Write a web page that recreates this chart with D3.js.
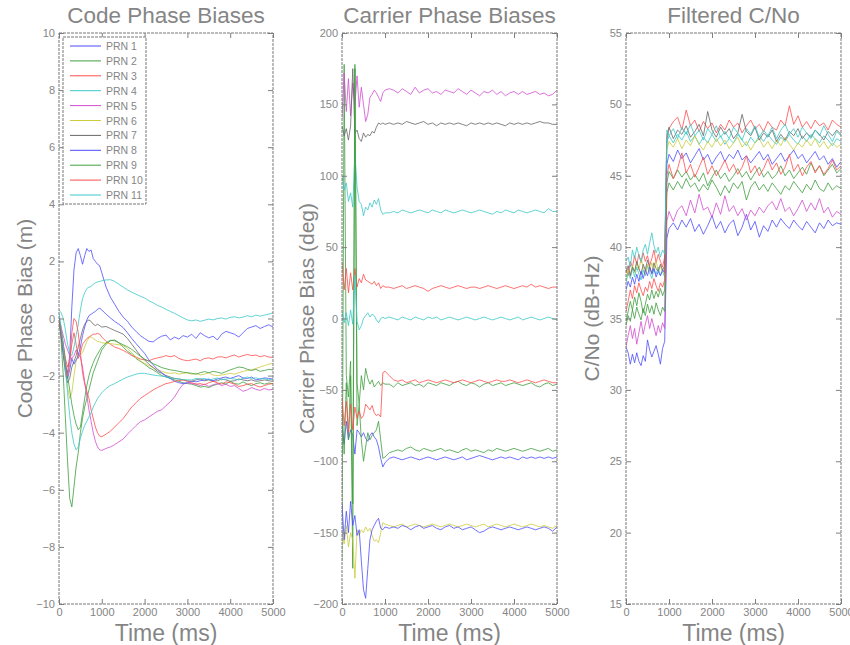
<!DOCTYPE html>
<html>
<head>
<meta charset="utf-8">
<script src="https://cdn.jsdelivr.net/npm/d3@7"></script>
<style>
  body { margin: 0; background: #fff; }
  svg text { font-family: "Liberation Sans", Arial, sans-serif; fill: #858585; }
</style>
</head>
<body>
<div id="chart"></div>
<script>
// time axis shared by every panel (ms)
const timeMs = [0, 50, 100, 150, 200, 250, 300, 350, 400, 450, 500, 550, 600, 650, 700, 750, 800, 850, 900, 950, 1000,
  1100, 1200, 1300, 1400, 1500, 1600, 1700, 1800, 1900, 2000, 2100, 2200, 2300, 2400, 2500, 2600, 2700, 2800, 2900, 3000,
  3100, 3200, 3300, 3400, 3500, 3600, 3700, 3800, 3900, 4000, 4100, 4200, 4300, 4400, 4500, 4600, 4700, 4800, 4900, 5000];

const prnNames = ["PRN 1", "PRN 2", "PRN 3", "PRN 4", "PRN 5", "PRN 6", "PRN 7", "PRN 8", "PRN 9", "PRN 10", "PRN 11"];

// code phase bias (m)
const codePrn1 = [0.0, -0.6, -1.2, -1.7, -1.9, -1.3, 0.4, 1.7, 2.3, 2.45, 2.2, 1.9, 2.2, 2.45, 2.35, 2.4, 2.1, 2.0, 1.9, 1.85, 1.6,
  1.1, 0.75, 0.5, 0.25, 0.05, -0.1, -0.3, -0.45, -0.6, -0.7, -0.8, -0.82, -0.7, -0.62, -0.58, -0.75, -0.65, -0.72, -0.6, -0.65,
  -0.55, -0.7, -0.5, -0.6, -0.68, -0.62, -0.75, -0.55, -0.45, -0.5, -0.55, -0.65, -0.5, -0.35, -0.3, -0.25, -0.35, -0.28, -0.22, -0.3];
const codePrn2 = [0.0, -0.8, -2.0, -3.5, -5.0, -6.3, -6.6, -5.9, -5.2, -4.7, -4.0, -3.5, -3.1, -2.8, -2.5, -2.2, -1.9, -1.7, -1.5, -1.3, -1.1,
  -0.9, -0.78, -0.75, -0.85, -1.0, -1.15, -1.25, -1.4, -1.5, -1.6, -1.72, -1.8, -1.9, -2.0, -2.05, -2.1, -2.15, -2.2, -2.25, -2.28,
  -2.3, -2.35, -2.4, -2.38, -2.42, -2.35, -2.3, -2.25, -2.3, -2.2, -2.28, -2.3, -2.22, -2.3, -2.35, -2.28, -2.25, -2.3, -2.26, -2.28];
const codePrn3 = [0.0, -0.4, -0.9, -1.4, -1.7, -1.5, -0.9, -0.5, -0.9, -1.4, -1.2, -0.9, -0.8, -0.7, -0.65, -0.6, -0.55, -0.55, -0.52, -0.55, -0.65,
  -0.8, -0.9, -1.0, -1.05, -1.12, -1.2, -1.3, -1.35, -1.42, -1.45, -1.48, -1.42, -1.38, -1.35, -1.3, -1.34, -1.3, -1.4, -1.45, -1.48,
  -1.45, -1.42, -1.48, -1.4, -1.38, -1.42, -1.35, -1.34, -1.38, -1.32, -1.28, -1.35, -1.3, -1.26, -1.3, -1.28, -1.34, -1.3, -1.35, -1.36];
const codePrn4 = [0.3, 0.2, 0.0, -0.4, -0.9, -1.2, -1.3, -1.0, -0.6, -0.2, 0.3, 0.7, 0.9, 1.05, 1.1, 1.12, 1.2, 1.25, 1.28, 1.3, 1.32,
  1.35, 1.36, 1.3, 1.2, 1.1, 1.0, 0.92, 0.85, 0.78, 0.72, 0.62, 0.55, 0.46, 0.4, 0.32, 0.25, 0.18, 0.1, 0.02, -0.05,
  -0.08, -0.05, -0.1, -0.06, -0.02, -0.05, 0.0, 0.02, -0.02, 0.04, 0.06, 0.02, 0.05, 0.1, 0.06, 0.12, 0.08, 0.12, 0.15, 0.2];
const codePrn5 = [0.0, -0.3, -0.6, -0.9, -1.1, -1.3, -1.4, -1.3, -1.1, -1.2, -1.35, -1.7, -2.2, -2.7, -3.2, -3.6, -4.0, -4.3, -4.5, -4.6, -4.62,
  -4.55, -4.5, -4.42, -4.32, -4.22, -4.05, -3.9, -3.75, -3.62, -3.55, -3.45, -3.35, -3.25, -3.2, -3.05, -2.92, -2.75, -2.5, -2.3, -2.25,
  -2.28, -2.3, -2.35, -2.3, -2.38, -2.32, -2.28, -2.35, -2.3, -2.38, -2.35, -2.45, -2.55, -2.5, -2.42, -2.48, -2.52, -2.45, -2.5, -2.48];
const codePrn6 = [0.0, -0.5, -1.1, -1.8, -2.4, -2.8, -2.6, -2.0, -1.5, -1.3, -1.25, -1.2, -1.0, -0.8, -0.68, -0.64, -0.7, -0.75, -0.8, -0.82, -0.85,
  -0.87, -0.88, -0.9, -0.92, -0.95, -1.05, -1.2, -1.35, -1.48, -1.57, -1.65, -1.72, -1.8, -1.85, -1.9, -1.92, -1.9, -1.95, -1.92, -1.9,
  -1.95, -1.92, -1.98, -1.95, -1.9, -1.98, -2.0, -1.98, -1.95, -1.92, -1.95, -1.9, -1.85, -1.82, -1.8, -1.75, -1.7, -1.65, -1.6, -1.57];
const codePrn7 = [0.0, -0.6, -1.3, -1.9, -2.25, -2.1, -1.7, -1.5, -1.3, -1.0, -0.7, -0.4, -0.2, -0.1, -0.05, -0.1, -0.2, -0.25, -0.2, -0.25, -0.3,
  -0.28, -0.35, -0.42, -0.48, -0.55, -0.7, -0.9, -1.1, -1.3, -1.45, -1.6, -1.72, -1.85, -1.92, -2.0, -2.05, -2.1, -2.12, -2.15, -2.18,
  -2.2, -2.15, -2.12, -2.18, -2.15, -2.2, -2.18, -2.12, -2.15, -2.2, -2.18, -2.12, -2.15, -2.18, -2.15, -2.2, -2.18, -2.15, -2.18, -2.2];
const codePrn8 = [0.0, -0.5, -1.1, -1.7, -2.1, -1.8, -1.4, -1.6, -1.45, -1.3, -1.0, -0.6, -0.3, -0.05, 0.1, 0.15, 0.2, 0.25, 0.32, 0.36, 0.3,
  0.15, 0.02, -0.1, -0.2, -0.32, -0.5, -0.7, -0.88, -1.05, -1.22, -1.45, -1.62, -1.78, -1.9, -2.02, -2.1, -2.2, -2.25, -2.28, -2.25,
  -2.2, -2.22, -2.18, -2.15, -2.12, -2.18, -2.12, -2.08, -2.05, -2.1, -2.05, -2.0, -2.08, -2.1, -2.05, -2.15, -2.12, -2.08, -2.1, -2.12];
const codePrn9 = [0.0, -0.4, -0.9, -1.5, -2.0, -2.5, -3.0, -3.4, -3.7, -3.9, -3.8, -3.3, -2.8, -2.35, -2.0, -1.75, -1.55, -1.38, -1.25, -1.12, -1.0,
  -0.85, -0.76, -0.78, -0.85, -0.92, -0.99, -1.08, -1.2, -1.32, -1.42, -1.5, -1.58, -1.65, -1.72, -1.76, -1.8, -1.82, -1.85, -1.88, -1.9,
  -1.92, -1.95, -1.9, -1.86, -1.9, -1.85, -1.88, -1.92, -1.86, -1.8, -1.75, -1.7, -1.72, -1.78, -1.82, -1.78, -1.85, -1.82, -1.78, -1.8];
const codePrn10 = [0.0, -0.5, -1.0, -1.6, -2.0, -1.6, -0.5, 0.0, -0.1, -0.5, -1.2, -1.9, -2.3, -2.55, -2.8, -3.2, -3.5, -3.8, -4.0, -4.12, -4.14,
  -4.05, -3.95, -3.8, -3.65, -3.5, -3.3, -3.1, -2.95, -2.8, -2.7, -2.6, -2.5, -2.42, -2.35, -2.28, -2.25, -2.2, -2.18, -2.15, -2.2,
  -2.25, -2.3, -2.28, -2.32, -2.25, -2.2, -2.25, -2.3, -2.22, -2.25, -2.3, -2.38, -2.35, -2.3, -2.28, -2.35, -2.4, -2.35, -2.3, -2.28];
const codePrn11 = [0.2, -0.3, -1.0, -1.8, -2.6, -3.4, -4.0, -4.4, -4.6, -4.5, -4.2, -3.95, -3.75, -3.6, -3.45, -3.3, -3.1, -2.95, -2.8, -2.7, -2.6,
  -2.45, -2.35, -2.28, -2.2, -2.12, -2.05, -2.0, -1.95, -1.92, -1.92, -1.95, -1.98, -2.0, -2.02, -2.04, -2.08, -2.1, -2.12, -2.14, -2.15,
  -2.15, -2.1, -2.12, -2.1, -2.15, -2.12, -2.08, -2.15, -2.12, -2.1, -2.12, -2.15, -2.1, -2.05, -2.1, -2.08, -2.12, -2.1, -2.15, -2.12];

// carrier phase bias (deg)
const carrPrn1 = [-75, -88, -72, -85, -78, -82, -95, -78, -80, -83, -80, -84, -86, -82, -80, -83, -85, -90, -98, -104, -101,
  -98, -97, -98, -99, -98, -97, -98, -99, -98, -97, -98, -99, -98, -97, -98, -99, -98, -97, -99, -98,
  -97, -96, -97, -98, -99, -98, -97, -98, -97, -98, -99, -97, -98, -97, -98, -97, -98, -97, -98, -97];
const carrPrn2 = [-170, 178, -40, -55, -30, -175, 178, -45, -60, -40, -50, -35, -42, -46, -43, -48, -46, -44, -47, -45, -46,
  -46, -48, -45, -47, -46, -45, -47, -46, -48, -45, -46, -47, -45, -46, -47, -45, -44, -46, -47, -45,
  -46, -48, -46, -45, -47, -46, -45, -47, -46, -45, -46, -47, -46, -45, -47, -48, -46, -45, -47, -46];
const carrPrn3 = [40, 20, 35, 18, 32, 20, 35, 22, 28, 25, 31, 27, 26, 25, 24, 26, 23, 25, 21, 23, 22,
  22, 21, 22, 23, 21, 22, 23, 22, 21, 19, 21, 22, 23, 22, 21, 22, 23, 22, 21, 22,
  22, 21, 22, 23, 22, 21, 22, 23, 22, 21, 22, 23, 22, 24, 22, 23, 22, 21, 22, 22];
const carrPrn4 = [100, 90, 95, 82, 88, 78, 115, 92, 82, 80, 72, 78, 76, 81, 78, 83, 80, 84, 76, 73, 74,
  74, 75, 74, 76, 75, 74, 75, 76, 75, 74, 76, 75, 74, 76, 75, 74, 75, 76, 75, 74,
  75, 76, 75, 74, 73, 75, 74, 76, 75, 74, 76, 75, 74, 75, 76, 75, 74, 77, 75, 75];
const carrPrn5 = [140, 172, 145, 168, 142, 165, 150, 170, 148, 162, 150, 138, 143, 155, 157, 160, 158, 155, 152, 158, 160,
  161, 160, 158, 161, 159, 157, 162, 158, 160, 161, 158, 159, 157, 160, 159, 158, 161, 159, 157, 160,
  158, 156, 159, 158, 160, 157, 159, 156, 158, 159, 157, 159, 157, 158, 159, 157, 158, 156, 157, 160];
const carrPrn6 = [-150, -158, -145, -160, -150, -155, -182, -148, -152, -148, -150, -146, -149, -147, -152, -156, -155, -157, -150, -143, -144,
  -145, -146, -145, -144, -146, -145, -144, -145, -146, -145, -144, -145, -146, -145, -144, -145, -146, -145, -144, -145,
  -146, -145, -144, -146, -145, -144, -145, -146, -145, -144, -145, -146, -145, -144, -145, -146, -145, -146, -147, -145];
const carrPrn7 = [135, 128, 133, 125, 135, 175, 130, 132, 126, 124, 130, 127, 129, 128, 131, 130, 134, 137, 136, 137, 136,
  137, 136, 137, 136, 138, 137, 136, 137, 138, 136, 137, 135, 137, 136, 137, 136, 137, 136, 135, 137,
  136, 137, 136, 137, 136, 137, 136, 135, 137, 136, 137, 136, 137, 136, 137, 138, 137, 137, 136, 136];
const carrPrn8 = [-130, -155, -135, -150, -128, -145, -138, -152, -148, -170, -190, -196, -175, -155, -148, -145, -142, -140, -147, -148, -146,
  -147, -146, -147, -145, -146, -148, -146, -145, -147, -146, -145, -147, -148, -146, -145, -147, -146, -148, -147, -146,
  -148, -150, -149, -147, -146, -147, -148, -147, -146, -147, -148, -147, -146, -147, -148, -147, -146, -147, -149, -146];
const carrPrn9 = [-60, -95, -45, -85, -40, -130, 175, -75, -60, -85, -100, -90, -80, -85, -82, -80, -78, -72, -85, -98, -97,
  -94, -93, -92, -93, -91, -90, -92, -93, -91, -92, -93, -92, -91, -93, -92, -93, -94, -92, -91, -93,
  -92, -93, -94, -92, -93, -91, -92, -93, -92, -91, -92, -93, -92, -91, -92, -93, -92, -91, -93, -92];
const carrPrn10 = [-55, -75, -58, -80, -60, -78, -62, -70, -65, -70, -68, -60, -62, -64, -61, -66, -68, -67, -69, -38, -37,
  -40, -43, -44, -43, -45, -44, -43, -45, -44, -43, -44, -45, -44, -43, -44, -45, -44, -43, -44, -45,
  -44, -43, -44, -45, -44, -43, -44, -44, -43, -44, -45, -44, -43, -44, -45, -44, -43, -44, -45, -45];
const carrPrn11 = [5, -3, 4, -5, 6, -4, 30, -2, -8, -5, 0, 2, 4, 1, 3, 2, -1, -3, 0, 1, 0,
  1, 0, -1, 1, 0, -1, 1, 0, -1, 1, 0, 1, -1, 0, 1, 0, -1, 0, 1, 0,
  -1, 0, 1, 0, -1, 0, 1, 0, -1, 0, 1, -1, 0, 1, 0, -1, 0, 1, 0, -1];

// filtered C/No (dB-Hz)
const cnoPrn1 = [33.0, 32.6, 31.8, 32.5, 31.9, 32.6, 32.0, 31.7, 32.4, 32.0, 33.5, 32.8, 32.3, 32.7, 33.1, 32.5, 31.8, 32.9, 33.4, 40.6, 41.3,
  41.7, 41.2, 41.9, 41.4, 42.0, 41.1, 41.6, 40.9, 41.5, 42.2, 41.3, 41.8, 41.0, 41.6, 41.9, 40.8, 41.4, 42.3, 41.2, 41.8,
  40.7, 41.5, 41.1, 41.9, 41.4, 42.0, 41.6, 41.3, 41.9, 41.5, 41.2, 41.8, 41.4, 41.0, 41.7, 41.3, 41.9, 41.5, 41.7, 41.6];
const cnoPrn2 = [34.8, 35.5, 36.2, 35.6, 36.5, 35.9, 36.8, 36.2, 35.4, 36.0, 36.7, 36.3, 37.0, 36.4, 36.9, 36.5, 37.1, 36.6, 37.0, 44.5, 45.3,
  44.8, 45.4, 44.9, 45.3, 44.7, 45.1, 44.6, 45.2, 44.3, 44.9, 45.4, 44.8, 45.2, 44.6, 45.0, 45.5, 44.9, 45.3, 44.7, 45.2,
  45.6, 44.9, 45.3, 44.8, 45.1, 45.7, 45.0, 45.4, 44.8, 45.2, 45.6, 45.1, 45.9, 45.3, 45.7, 45.0, 45.4, 45.8, 45.2, 45.5];
const cnoPrn3 = [38.5, 38.0, 39.0, 38.6, 39.4, 38.8, 39.5, 38.9, 39.6, 39.0, 39.4, 38.7, 39.2, 39.8, 38.9, 39.5, 39.0, 38.6, 39.3, 47.5, 48.3,
  48.8, 49.1, 48.2, 49.6, 48.5, 48.9, 48.1, 48.8, 48.3, 48.7, 48.0, 48.6, 48.2, 48.9, 48.4, 48.7, 48.0, 48.5, 48.9, 48.3,
  48.6, 48.1, 48.8, 48.4, 48.2, 48.9, 48.5, 49.9, 48.6, 49.2, 48.4, 48.8, 48.3, 48.9, 48.5, 48.7, 48.2, 48.9, 48.6, 48.4];
const cnoPrn4 = [37.5, 38.2, 37.8, 38.5, 37.9, 38.6, 38.1, 37.7, 38.4, 38.0, 38.7, 38.2, 37.8, 38.5, 38.1, 38.6, 38.0, 38.3, 37.9, 47.3, 47.8,
  47.3, 47.9, 47.5, 48.1, 47.4, 47.8, 47.2, 47.7, 47.3, 47.9, 47.4, 47.8, 47.2, 47.6, 47.3, 47.9, 47.5, 47.1, 47.7, 47.3,
  47.8, 47.4, 47.9, 47.5, 47.2, 47.7, 47.4, 47.9, 47.5, 47.2, 47.8, 47.4, 47.9, 47.6, 47.3, 47.8, 47.5, 47.1, 47.6, 47.4];
const cnoPrn5 = [33.0, 33.8, 34.5, 33.6, 34.3, 33.2, 34.0, 34.8, 33.9, 34.6, 35.2, 34.3, 35.0, 34.4, 33.8, 34.5, 34.0, 34.7, 34.3, 41.8, 42.5,
  41.8, 42.6, 42.9, 42.2, 43.3, 42.4, 43.7, 42.6, 42.8, 42.1, 43.1, 42.3, 43.6, 42.5, 42.9, 42.2, 42.7, 41.9, 42.6, 42.2,
  42.8, 42.4, 42.9, 43.2, 42.6, 43.4, 42.5, 42.8, 42.2, 42.7, 43.3, 42.5, 43.1, 42.6, 43.4, 42.4, 42.8, 42.1, 42.5, 42.3];
const cnoPrn6 = [37.8, 38.5, 38.0, 38.7, 38.2, 38.9, 38.4, 39.2, 38.6, 38.1, 38.8, 38.3, 38.9, 38.5, 39.0, 38.4, 38.7, 38.2, 38.6, 46.8, 47.4,
  47.0, 47.6, 46.9, 47.5, 47.1, 47.8, 47.2, 46.8, 47.4, 47.0, 47.6, 47.1, 47.5, 46.9, 47.3, 47.7, 47.0, 47.4, 46.8, 47.3,
  47.6, 47.0, 47.4, 46.9, 47.5, 47.1, 47.7, 47.2, 46.8, 47.3, 47.0, 47.5, 47.1, 47.6, 47.0, 47.4, 46.9, 47.3, 47.0, 47.2];
const cnoPrn7 = [38.2, 38.7, 38.0, 38.6, 38.3, 39.0, 38.5, 38.1, 38.8, 38.4, 39.1, 38.6, 38.2, 38.9, 38.5, 38.3, 38.8, 38.4, 38.7, 47.8, 48.4,
  47.6, 48.2, 47.9, 48.5, 47.7, 48.1, 48.6, 47.8, 49.5, 48.2, 47.7, 48.4, 47.9, 48.3, 47.6, 48.0, 49.3, 48.1, 47.8, 48.4,
  47.5, 48.0, 47.7, 48.2, 47.4, 47.9, 47.5, 48.1, 47.8, 48.3, 47.6, 48.0, 47.7, 48.2, 47.9, 47.5, 48.1, 47.8, 48.2, 47.9];
const cnoPrn8 = [37.0, 37.6, 37.2, 37.9, 37.4, 38.1, 37.6, 38.3, 37.8, 38.4, 38.0, 38.6, 38.1, 38.5, 37.9, 38.3, 38.0, 38.4, 38.2, 45.8, 46.5,
  46.0, 46.8, 46.2, 46.6, 45.9, 46.4, 46.9, 46.1, 46.5, 45.8, 46.3, 46.7, 46.0, 46.5, 46.2, 46.8, 46.1, 46.4, 45.9, 46.3,
  46.7, 46.1, 46.5, 45.8, 46.2, 46.6, 46.0, 46.4, 46.8, 46.2, 46.5, 45.9, 46.3, 46.7, 46.1, 46.4, 45.8, 46.2, 45.6, 46.0];
const cnoPrn9 = [34.5, 35.2, 34.8, 35.6, 35.0, 35.8, 35.3, 34.9, 35.7, 35.2, 36.0, 35.4, 35.9, 35.3, 36.1, 35.6, 35.2, 35.8, 35.5, 43.8, 44.5,
  44.0, 44.6, 44.1, 44.8, 44.2, 44.5, 43.9, 44.4, 44.0, 44.7, 44.2, 43.6, 44.3, 43.8, 44.5, 44.1, 44.6, 43.3, 44.2, 44.6,
  44.0, 44.4, 43.9, 44.5, 44.1, 43.7, 44.3, 44.0, 44.6, 44.2, 43.8, 44.4, 44.0, 44.7, 44.1, 43.9, 44.5, 44.0, 44.3, 44.1];
const cnoPrn10 = [35.5, 36.2, 37.0, 36.4, 37.3, 36.8, 37.5, 37.0, 36.6, 37.2, 36.9, 37.6, 37.1, 37.8, 37.3, 36.9, 37.5, 37.2, 37.7, 45.0, 45.8,
  44.8, 45.5, 46.6, 45.2, 45.8, 44.9, 45.6, 46.3, 45.1, 45.7, 45.0, 45.5, 46.1, 45.3, 45.8, 45.1, 45.6, 46.4, 45.2, 45.7,
  45.0, 45.5, 46.2, 45.4, 45.9, 45.1, 45.6, 46.5, 45.3, 45.8, 45.0, 45.6, 46.0, 45.2, 45.7, 45.1, 45.5, 46.1, 45.4, 45.7];
const cnoPrn11 = [39.0, 39.3, 38.6, 39.8, 39.2, 40.0, 39.4, 39.0, 39.8, 40.2, 39.5, 40.3, 41.0, 40.1, 39.6, 40.0, 39.3, 39.8, 39.5, 48.2, 47.8,
  48.3, 47.6, 48.4, 47.9, 48.6, 47.8, 48.2, 47.5, 48.3, 47.9, 48.5, 47.7, 48.1, 47.6, 48.4, 48.0, 47.5, 48.3, 47.9, 48.5,
  47.7, 48.2, 47.8, 48.4, 47.6, 48.2, 48.6, 47.9, 48.3, 47.7, 48.4, 48.0, 47.6, 48.2, 47.8, 48.5, 47.9, 47.4, 48.1, 47.8];

const codeSeries = [codePrn1, codePrn2, codePrn3, codePrn4, codePrn5, codePrn6, codePrn7, codePrn8, codePrn9, codePrn10, codePrn11];
const carrSeries = [carrPrn1, carrPrn2, carrPrn3, carrPrn4, carrPrn5, carrPrn6, carrPrn7, carrPrn8, carrPrn9, carrPrn10, carrPrn11];
const cnoSeries = [cnoPrn1, cnoPrn2, cnoPrn3, cnoPrn4, cnoPrn5, cnoPrn6, cnoPrn7, cnoPrn8, cnoPrn9, cnoPrn10, cnoPrn11];

const xTicks = [0, 1000, 2000, 3000, 4000, 5000];

// matlab style colour cycle b g r c m y k
const lineColors = ["#4d4dff", "#3f9f3f", "#ff4d4d", "#3cc8c8", "#d24dd2", "#cccc3c", "#666666",
  "#4d4dff", "#3f9f3f", "#ff4d4d", "#3cc8c8"];

const width = 850, height = 645;
const svg = d3.select("#chart").append("svg")
  .attr("width", width)
  .attr("height", height);

const plotTop = 33, plotBottom = 604;

const panels = [
  { left: 59, right: 273, title: "Code Phase Biases", ylabel: "Code Phase Bias (m)", ylabelX: 32,
    domain: [-10, 10], ticks: d3.range(-10, 11, 2), series: codeSeries },
  { left: 342, right: 557, title: "Carrier Phase Biases", ylabel: "Carrier Phase Bias (deg)", ylabelX: 314,
    domain: [-200, 200], ticks: d3.range(-200, 201, 50), series: carrSeries },
  { left: 626, right: 841, title: "Filtered C/No", ylabel: "C/No (dB-Hz)", ylabelX: 599,
    domain: [15, 55], ticks: d3.range(15, 56, 5), series: cnoSeries }
];

panels.forEach((p, pi) => {
  let x = d3.scaleLinear().domain([0, 5000]).range([p.left, p.right]);
  let y = d3.scaleLinear().domain(p.domain).range([plotBottom, plotTop]);
  let g = svg.append("g");

  // clip lines to the plot box
  g.append("clipPath").attr("id", "clip" + pi)
    .append("rect")
    .attr("x", p.left).attr("y", plotTop)
    .attr("width", p.right - p.left).attr("height", plotBottom - plotTop);

  let line = d3.line()
    .x((d, i) => x(timeMs[i]))
    .y(d => y(d));

  g.append("g").attr("clip-path", `url(#clip${pi})`)
    .selectAll("path")
    .data(p.series)
    .join("path")
    .attr("d", d => line(d))
    .attr("fill", "none")
    .attr("stroke", (d, i) => lineColors[i])
    .attr("stroke-width", 1)
    .attr("stroke-opacity", 0.8);

  // axes with inward ticks on all four sides
  let axes = [
    { axis: d3.axisLeft(y).tickValues(p.ticks), tr: `translate(${p.left},0)` },
    { axis: d3.axisRight(y).tickValues(p.ticks).tickFormat(""), tr: `translate(${p.right},0)` },
    { axis: d3.axisBottom(x).tickValues(xTicks).tickFormat(d3.format("d")), tr: `translate(0,${plotBottom})` },
    { axis: d3.axisTop(x).tickValues(xTicks).tickFormat(""), tr: `translate(0,${plotTop})` }
  ];
  axes.forEach(a => {
    let ag = g.append("g").attr("transform", a.tr)
      .call(a.axis.tickSize(-5).tickPadding(4));
    ag.select(".domain").remove();
    ag.selectAll("line").attr("stroke", "#808080");
    ag.selectAll("text").attr("font-size", 11).attr("fill", "#8a8a8a");
  });

  g.append("rect")
    .attr("x", p.left).attr("y", plotTop)
    .attr("width", p.right - p.left).attr("height", plotBottom - plotTop)
    .attr("fill", "none")
    .attr("stroke", "#777")
    .attr("stroke-dasharray", "3,1");

  g.append("text")
    .attr("x", (p.left + p.right) / 2).attr("y", 23)
    .attr("text-anchor", "middle")
    .attr("font-size", 22.5)
    .text(p.title);

  g.append("text")
    .attr("x", (p.left + p.right) / 2).attr("y", 641)
    .attr("text-anchor", "middle")
    .attr("font-size", 23)
    .text("Time (ms)");

  g.append("text")
    .attr("transform", `translate(${p.ylabelX},${(plotTop + plotBottom) / 2}) rotate(-90)`)
    .attr("text-anchor", "middle")
    .attr("font-size", 21)
    .text(p.ylabel);
});

// legend on the code phase panel
const legend = svg.append("g");
legend.append("rect")
  .attr("x", 63).attr("y", 37)
  .attr("width", 83).attr("height", 167)
  .attr("fill", "#fff")
  .attr("stroke", "#777")
  .attr("stroke-dasharray", "3,1");

const legendY = d3.scaleLinear().domain([0, prnNames.length - 1]).range([46, 195]);
prnNames.forEach((name, i) => {
  legend.append("line")
    .attr("x1", 70).attr("x2", 101)
    .attr("y1", legendY(i)).attr("y2", legendY(i))
    .attr("stroke", lineColors[i])
    .attr("stroke-width", 1);
  legend.append("text")
    .attr("x", 106).attr("y", legendY(i) + 4)
    .attr("font-size", 10.5)
    .text(name);
});
</script>
</body>
</html>
